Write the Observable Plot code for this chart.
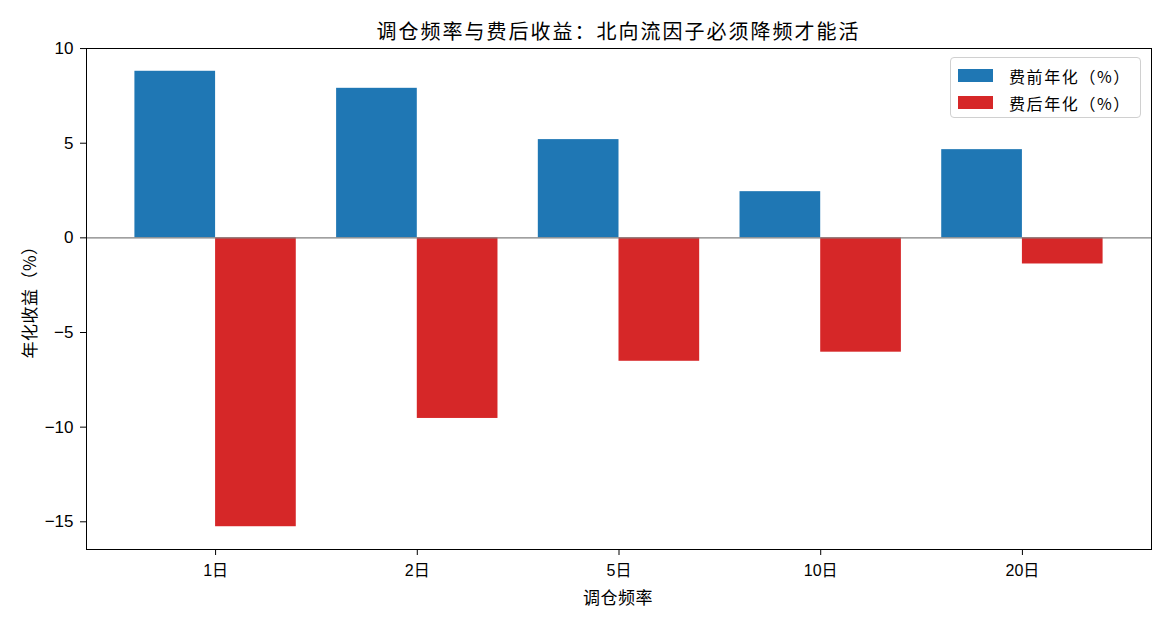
<!DOCTYPE html>
<html><head><meta charset="utf-8">
<script src="https://cdn.jsdelivr.net/npm/d3@7"></script>
<script src="https://cdn.jsdelivr.net/npm/@observablehq/plot@0.6"></script>
<style>
body{margin:0;background:#fff;font-family:"Liberation Sans","Noto Sans CJK SC",sans-serif;color:#000;}
#wrap{position:relative;width:1170px;height:624px;overflow:hidden;}
#title{position:absolute;left:86px;width:1065px;top:18px;text-align:center;font-size:20px;letter-spacing:2px;line-height:26px;font-family:"Noto Sans CJK SC",sans-serif;}
#chart{position:absolute;left:0;top:40px;}
#ylabel{position:absolute;left:28px;top:298px;transform:translate(-50%,-50%) rotate(-90deg);white-space:nowrap;font-size:17px;letter-spacing:0.5px;font-family:"Noto Sans CJK SC",sans-serif;}
#xlabel{position:absolute;left:618px;top:596px;transform:translate(-50%,-50%);white-space:nowrap;font-size:17px;letter-spacing:0.5px;font-family:"Noto Sans CJK SC",sans-serif;}
#legend{position:absolute;left:950px;top:57px;width:191px;height:61px;border:1px solid #d0d0d0;border-radius:4px;box-sizing:border-box;background:rgba(255,255,255,0.8);padding-top:4px;}
.li{display:flex;align-items:center;height:27px;font-size:16px;letter-spacing:1.6px;font-family:"Noto Sans CJK SC",sans-serif;}
.sw{width:35px;height:13px;margin-left:7px;margin-right:16px;}
</style></head>
<body>
<div id="wrap">
  <div id="title"></div>
  <div id="chart"></div>
  <div id="ylabel"></div>
  <div id="xlabel"></div>
  <div id="legend"></div>
</div>
<script>
const titleText = "调仓频率与费后收益：北向流因子必须降频才能活";
const xTitle = "调仓频率";
const yTitle = "年化收益（%）";
const categories = ["1日", "2日", "5日", "10日", "20日"];
const series = ["费前年化（%）", "费后年化（%）"];
const preFee = [8.80, 7.90, 5.19, 2.44, 4.66];
const postFee = [-15.26, -9.54, -6.52, -6.04, -1.38];
const colors = ["#1f77b4", "#d62728"];
const yTicks = [-15, -10, -5, 0, 5, 10];
const barWidth = 0.4;

const rows = categories.flatMap((c, i) => [
  {cat: c, series: series[0], value: preFee[i], x1: i - barWidth, x2: i},
  {cat: c, series: series[1], value: postFee[i], x1: i, x2: i + barWidth}
]);

const allVals = preFee.concat(postFee);
const ymin = Math.min(0, d3.min(allVals)), ymax = Math.max(0, d3.max(allVals));
const ypad = 0.05 * (ymax - ymin);
const xlo = -barWidth, xhi = categories.length - 1 + barWidth;
const xpad = 0.05 * (xhi - xlo);

const font = '"Liberation Sans","Noto Sans CJK SC",sans-serif';

const chart = Plot.plot({
  width: 1170,
  height: 584,
  marginTop: 8,
  marginLeft: 86,
  marginRight: 19,
  marginBottom: 75,
  style: {fontFamily: font, fontSize: "16px", color: "#000", background: "transparent"},
  x: {type: "linear", domain: [xlo - xpad, xhi + xpad]},
  y: {domain: [ymin - ypad, ymax + ypad]},
  color: {domain: series, range: colors},
  marks: [
    Plot.rectY(rows, {x1: "x1", x2: "x2", y: "value", fill: "series"}),
    Plot.ruleY([0], {stroke: "#808080", strokeWidth: 1.2}),
    Plot.frame({stroke: "#000", strokeWidth: 1}),
    Plot.axisY({ticks: yTicks, tickSize: 6, tickPadding: 7, label: null, fontSize: 17, fontFamily: font}),
    Plot.axisX({ticks: d3.range(categories.length), tickFormat: i => categories[i], tickSize: 6, tickPadding: 9, label: null, fontSize: 16, fontFamily: font})
  ]
});
document.getElementById("chart").appendChild(chart);
document.getElementById("title").textContent = titleText;
document.getElementById("xlabel").textContent = xTitle;
document.getElementById("ylabel").textContent = yTitle;
const lg = document.getElementById("legend");
series.forEach((s, k) => {
  const row = document.createElement("div");
  row.className = "li";
  const sw = document.createElement("span");
  sw.className = "sw";
  sw.style.background = colors[k];
  const tx = document.createElement("span");
  tx.textContent = s;
  row.appendChild(sw); row.appendChild(tx);
  lg.appendChild(row);
});
</script>
</body></html>
